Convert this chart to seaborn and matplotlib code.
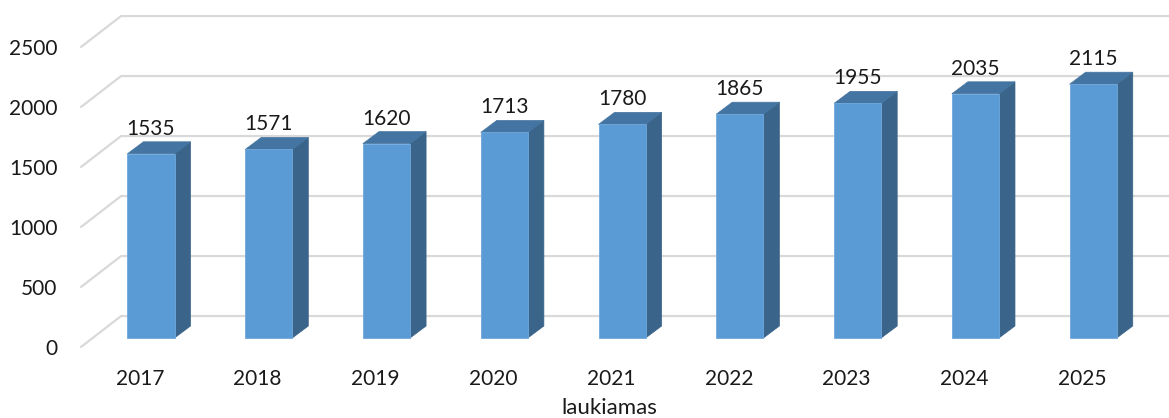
import matplotlib
matplotlib.use("Agg")
import pandas as pd
import seaborn as sns
import matplotlib.pyplot as plt
from matplotlib.patches import Polygon

years = ["2017", "2018", "2019", "2020", "2021", "2022", "2023", "2024", "2025"]
values = [1535, 1571, 1620, 1713, 1780, 1865, 1955, 2035, 2115]
y_ticks = [0, 500, 1000, 1500, 2000, 2500]

# fake 3D depth, in axis units (categories, value)
wall_dx, wall_dy = 0.34, 258
bar_dx, bar_dy = 0.136, 100
shift_dx, shift_dy = 0.094, 75

sns.set_theme(style="white")
plt.rcParams["font.family"] = ["Lato", "DejaVu Sans"]

df = pd.DataFrame({"year": years, "value": values})

fig = plt.figure(figsize=(11.69, 4.18), dpi=100)
ax = fig.add_axes([81 / 1169, 71 / 418, 1060 / 1169, 300 / 418])
sns.barplot(data=df, x="year", y="value", width=0.4, color="#5b9bd5", saturation=1,
            edgecolor="#6fa8dc", linewidth=0.6, ax=ax, zorder=3)

ax.set_xlim(-0.5, 8.5)
ax.set_ylim(0, 2500)
ax.set_yticks(y_ticks)
ax.set_xlabel("laukiamas", fontsize=16, color="#1a1a1a", labelpad=6, x=0.498)
ax.set_ylabel("")
ax.tick_params(axis="y", length=0, pad=17, labelsize=15, labelcolor="#1a1a1a")
ax.tick_params(axis="x", length=0, pad=16, labelsize=15, labelcolor="#1a1a1a")
sns.despine(ax=ax, left=True, bottom=True)

# floor diagonal + back wall line for every tick
for t in y_ticks:
    ax.plot([-0.5, -0.5 + wall_dx, 8.5 + wall_dx], [t, t + wall_dy, t + wall_dy],
            color="#d9d9d9", lw=1.6, clip_on=False, zorder=1)

for bar, val in zip(ax.patches, values):
    bar.set_x(bar.get_x() + shift_dx)
    bar.set_y(shift_dy)
    bar.set_clip_on(False)
    x0 = bar.get_x()
    x1 = x0 + bar.get_width()
    y0 = shift_dy
    y1 = shift_dy + val
    # side and top faces
    ax.add_patch(Polygon([(x1, y0), (x1 + bar_dx, y0 + bar_dy), (x1 + bar_dx, y1 + bar_dy), (x1, y1)],
                         facecolor="#3a6489", edgecolor="#3a6489", lw=0.5, clip_on=False, zorder=2))
    ax.add_patch(Polygon([(x0, y1), (x1, y1), (x1 + bar_dx, y1 + bar_dy), (x0 + bar_dx, y1 + bar_dy)],
                         facecolor="#4474a1", edgecolor="#4474a1", lw=0.5, clip_on=False, zorder=2))
    ax.annotate(str(val), (x0 + bar.get_width() / 2, y1), xytext=(0, 18), textcoords="offset points",
                ha="center", va="center", fontsize=15, color="#1a1a1a", zorder=4)

plt.savefig("out.png", dpi=100)
